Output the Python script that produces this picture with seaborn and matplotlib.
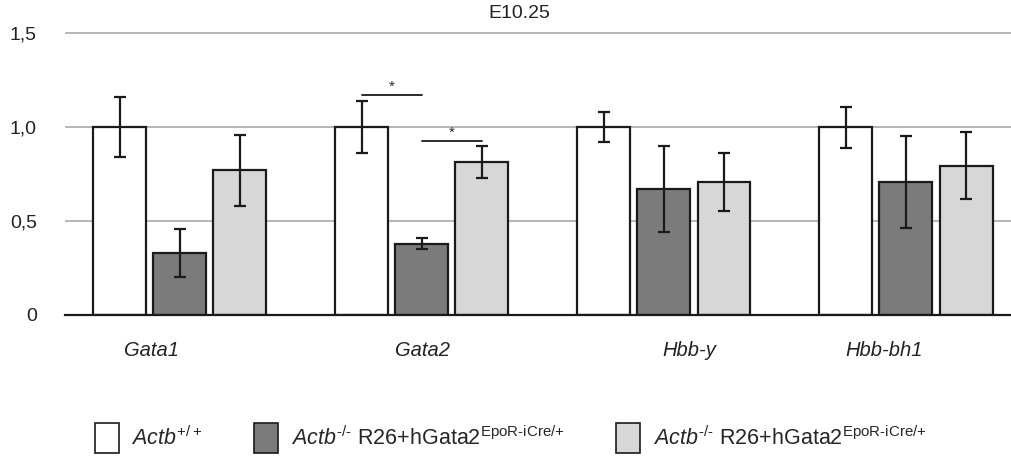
import pandas as pd
import numpy as np
import matplotlib
matplotlib.use("Agg")
import matplotlib.pyplot as plt
import seaborn as sns
from matplotlib.patches import Patch

# data
genes = ["Gata1", "Gata2", "Hbb-y", "Hbb-bh1"]
groups = ["wt", "ko_a", "ko_b"]
wt_mean = [1.0, 1.0, 1.0, 1.0]
wt_err = [0.16, 0.14, 0.08, 0.11]
ko_a_mean = [0.33, 0.38, 0.67, 0.71]
ko_a_err = [0.13, 0.03, 0.23, 0.245]
ko_b_mean = [0.77, 0.815, 0.71, 0.795]
ko_b_err = [0.19, 0.085, 0.155, 0.18]
legend_labels = [
    r"$\mathit{Actb}^{+/+}$",
    r"$\mathit{Actb}^{\text{-/-}}$ R26+hGata2$^{\text{EpoR-iCre/+}}$",
    r"$\mathit{Actb}^{\text{-/-}}$ R26+hGata2$^{\text{EpoR-iCre/+}}$",
]
colors = ["#ffffff", "#7b7b7b", "#d7d7d7"]
# significance brackets: gene, group from, group to, height
sig_gene = ["Gata2", "Gata2"]
sig_from = ["wt", "ko_a"]
sig_to = ["ko_a", "ko_b"]
sig_y = [1.17, 0.925]

df = pd.DataFrame({
    "gene": genes * 3,
    "group": [g for g in groups for _ in genes],
    "value": wt_mean + ko_a_mean + ko_b_mean,
    "err": wt_err + ko_a_err + ko_b_err,
})

sns.set_theme(style="white")
plt.rcParams["font.family"] = ["Liberation Sans", "DejaVu Sans"]
plt.rcParams["mathtext.fontset"] = "custom"
plt.rcParams["mathtext.rm"] = "Liberation Sans"
plt.rcParams["mathtext.it"] = "Liberation Sans:italic"

fig = plt.figure(figsize=(10.11, 4.61), dpi=100)
ax = fig.add_axes([0.064, 0.317, 0.936, 0.631])

sns.barplot(data=df, x="gene", y="value", hue="group", order=genes, hue_order=groups,
            palette=colors, width=0.745, gap=0.12, errorbar=None,
            edgecolor="#1a1a1a", linewidth=1.6, legend=False, ax=ax)

# error bars and bar centres from the drawn patches
centres = {}
for patch, (_, row) in zip(ax.patches, df.iterrows()):
    cx = patch.get_x() + patch.get_width() / 2
    centres[(row["gene"], row["group"])] = cx
    ax.errorbar(cx, row["value"], yerr=row["err"], color="#1a1a1a",
                capsize=4.5, elinewidth=1.6, capthick=1.6, zorder=5)

for g, a, b, y in zip(sig_gene, sig_from, sig_to, sig_y):
    x0, x1 = centres[(g, a)], centres[(g, b)]
    ax.plot([x0, x1], [y, y], color="#1a1a1a", lw=1.3)
    ax.text((x0 + x1) / 2, y + 0.01, "*", ha="center", va="bottom", fontsize=11)

ax.set_xlim(-0.475, 3.434)
ax.set_ylim(0, 1.55)
ax.set_yticks([0, 0.5, 1.0, 1.5])
ax.set_yticklabels(["0", "0,5", "1,0", "1,5"], fontsize=14, color="#222222")
ax.yaxis.grid(True, color="#b0b0b0", lw=1.3)
ax.set_axisbelow(True)
ax.set_xticks([-0.116, 1.004, 2.107, 2.909])
ax.set_xticklabels(genes, fontsize=14.5, style="italic", color="#222222")
ax.tick_params(axis="both", length=0)
ax.tick_params(axis="x", pad=19)
ax.tick_params(axis="y", pad=20)
for s in ["top", "right", "left"]:
    ax.spines[s].set_visible(False)
ax.spines["bottom"].set_color("#1a1a1a")
ax.spines["bottom"].set_linewidth(1.6)
ax.set_xlabel("")
ax.set_ylabel("")
ax.set_title("E10.25", fontsize=14, x=0.48, pad=4, color="#222222")

handles = [Patch(facecolor=c, edgecolor="#1a1a1a", linewidth=1.2) for c in colors]
fig.legend(handles, legend_labels, loc="center", bbox_to_anchor=(0.505, 0.05), ncol=3,
           frameon=False, fontsize=15.5, handlelength=1.1, handleheight=1.8,
           columnspacing=2.4, handletextpad=0.6)

fig.savefig("out.png", dpi=100)
